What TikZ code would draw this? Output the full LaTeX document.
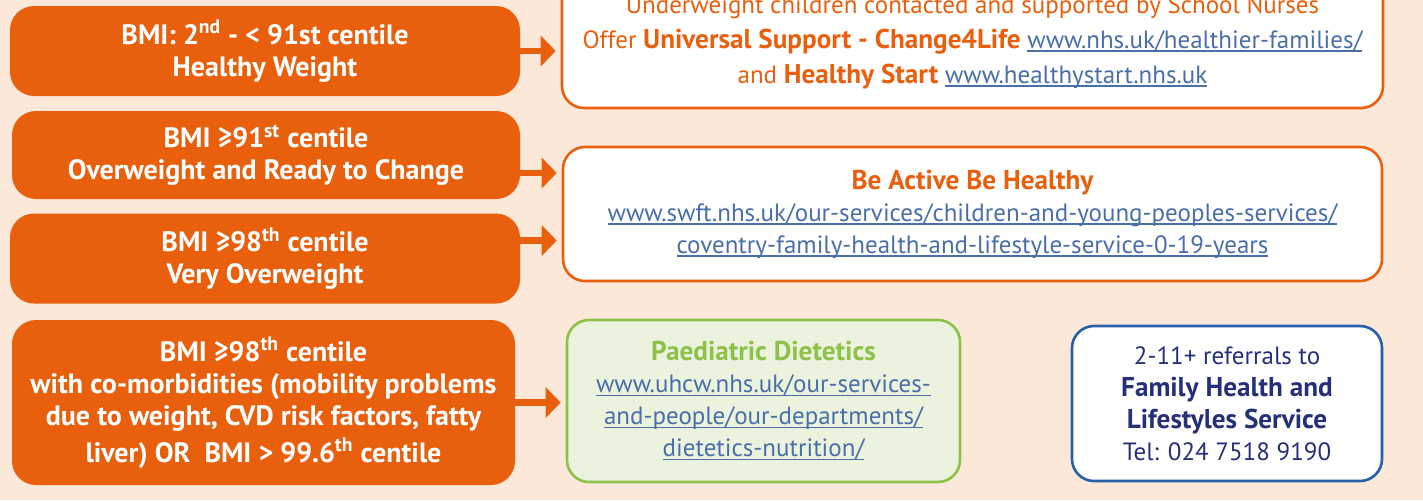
\documentclass[tikz,border=0pt]{standalone}
\usepackage{fontspec}
\setmainfont{PT Sans}
\usetikzlibrary{arrows.meta}

\definecolor{bgpeach}{RGB}{252,232,217}
\definecolor{nhsorange}{RGB}{232,96,14}
\definecolor{linkblue}{RGB}{74,111,168}
\definecolor{dietgreen}{RGB}{141,193,74}
\definecolor{dietfill}{RGB}{235,242,221}
\definecolor{fhlblue}{RGB}{40,95,170}
\definecolor{fhlnavy}{RGB}{38,48,120}

% underlined web address, rule close under the baseline
\newcommand{\weblink}[1]{{\color{linkblue}\setbox0\hbox{#1}%
  \rlap{\rule[-1.7pt]{\wd0}{0.55pt}}\box0}}
\newcommand{\hl}[1]{{\fontsize{13.6}{16}\selectfont\bfseries #1}}

\tikzset{
  bmibox/.style={fill=nhsorange, rounded corners=12pt, text=white, inner sep=0pt,
    align=center, font=\fontsize{14}{16}\selectfont\bfseries},
  servicebox/.style={draw=nhsorange, line width=1.3pt, fill=white, rounded corners=11pt,
    inner sep=0pt, align=center, text=nhsorange, font=\fontsize{12.5}{16}\selectfont},
  flowarrow/.style={nhsorange, line width=3.25pt, -{Triangle[length=7.5pt,width=15pt]},
    shorten >=2.5pt}
}

\begin{document}
\begin{tikzpicture}[x=0.5pt, y=-0.5pt]
  \useasboundingbox (0,0) rectangle (1423,500);
  \fill [bgpeach] (0,0) rectangle (1423,500);

  % BMI boxes
  \node [bmibox, minimum width=255pt, minimum height=45pt] (hw) at (265, 51)
    {BMI: 2\textsuperscript{nd} - < 91st centile\\ Healthy Weight};
  \node [bmibox, minimum width=254pt, minimum height=44pt] (ow) at (266, 155)
    {BMI ≥91\textsuperscript{st} centile\\ Overweight and Ready to Change};
  \node [bmibox, minimum width=255pt, minimum height=45pt] (vo) at (265, 258.5)
    {BMI ≥98\textsuperscript{th} centile\\ Very Overweight};
  \node [bmibox, minimum width=251.5pt, minimum height=82.5pt] (cm) at (263.5, 402.5)
    {BMI ≥98\textsuperscript{th} centile\\ with co-morbidities (mobility problems\\
     due to weight, CVD risk factors, fatty\\[2.5pt] liver) OR\ \ BMI > 99.6\textsuperscript{th} centile};

  % services
  \node [servicebox, minimum width=410.5pt, minimum height=66pt,
    font=\fontsize{12.5}{17.5}\selectfont] (sn) at (972.5, 42)
    {Underweight children contacted and supported by School Nurses\\
     Offer \hl{Universal Support - Change4Life} \weblink{www.nhs.uk/healthier-families/}\\
     and \hl{Healthy Start} \weblink{www.healthystart.nhs.uk}};
  \node [servicebox, minimum width=409.5pt, minimum height=67pt] (bab) at (972.5, 214)
    {\hl{Be Active Be Healthy}\\
     \weblink{www.swft.nhs.uk/our-services/children-and-young-peoples-services/}\\
     \weblink{coventry-family-health-and-lifestyle-service-0-19-years}};
  \node [servicebox, draw=dietgreen, fill=dietfill, text=dietgreen,
    minimum width=196.5pt, minimum height=81pt] (pd) at (763.5, 401)
    {\hl{Paediatric Dietetics}\\ \weblink{www.uhcw.nhs.uk/our-services-}\\
     \weblink{and-people/our-departments/}\\ \weblink{dietetics-nutrition/}};
  \node [servicebox, draw=fhlblue, text=fhlnavy,
    minimum width=155pt, minimum height=77.5pt] (fhl) at (1227, 403.5)
    {2-11+ referrals to\\ \hl{Family Health and}\\ \hl{Lifestyles Service}\\
     Tel: 024 7518 9190};

  % arrows
  \draw [flowarrow] (hw.east) -- (hw.east -| sn.west);
  \draw [flowarrow] ([yshift=-9pt]ow.east) -- ([yshift=-9pt]ow.east -| bab.west);
  \draw [flowarrow] ([yshift=9pt]vo.east) -- ([yshift=9pt]vo.east -| bab.west);
  \draw [flowarrow] (cm.east) -- (cm.east -| pd.west);
\end{tikzpicture}
\end{document}
